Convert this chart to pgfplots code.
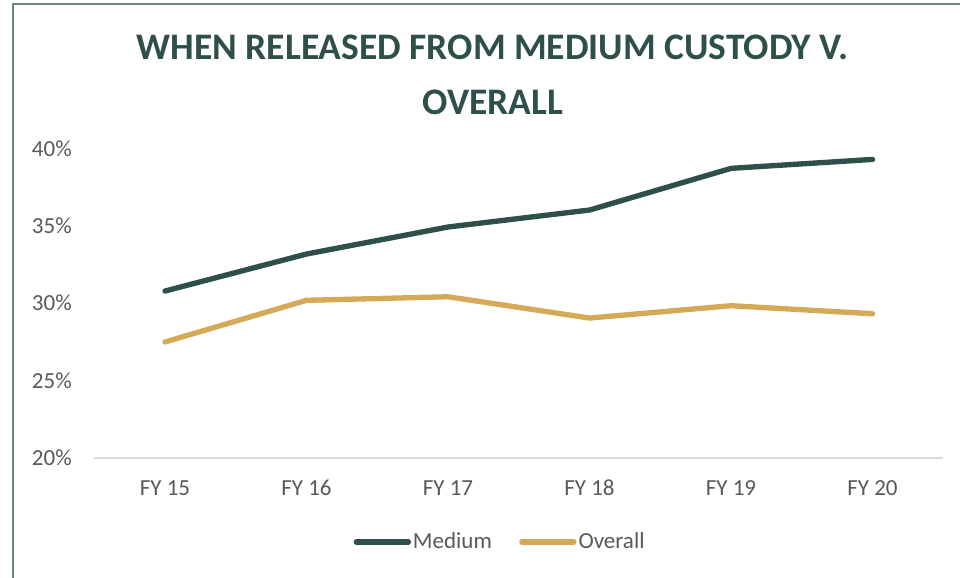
\documentclass[border=0pt]{standalone}
\usepackage{pgfplots}
\pgfplotsset{compat=1.18}
\usepackage{fontspec}
\setmainfont{Carlito}
\definecolor{dg}{HTML}{2E4F4A}
\definecolor{gold}{HTML}{D4A958}
\definecolor{txt}{HTML}{595959}
\definecolor{framec}{HTML}{6E8886}
\definecolor{axc}{HTML}{D9D9D9}
\begin{document}
\begin{tikzpicture}[x=0.75pt,y=0.75pt]
\useasboundingbox (0,0) rectangle (960,578);
\clip (0,0) rectangle (960,578);
\draw[framec, line width=0.9pt] (13,-5) -- (13,574) -- (970,574);
\node[font=\fontsize{28.1}{41.8}\selectfont\bfseries, text=dg, anchor=base, inner sep=0pt] at (492.5,518.7) {WHEN RELEASED FROM MEDIUM CUSTODY V.};
\node[font=\fontsize{28.1}{41.8}\selectfont\bfseries, text=dg, anchor=base, inner sep=0pt] at (493,463) {OVERALL};
\begin{axis}[
  at={(70.7pt,90.2pt)}, anchor=south west,
  width=636.75pt, height=231.5pt, scale only axis,
  xmin=-0.5, xmax=5.5, ymin=20, ymax=40,
  ytick={20,25,30,35,40},
  yticklabels={20\%,25\%,30\%,35\%,40\%},
  xtick={0,1,2,3,4,5},
  xticklabels={FY 15,FY 16,FY 17,FY 18,FY 19,FY 20},
  axis x line=bottom, axis y line=left,
  x axis line style={draw=axc, line width=1.5pt, -},
  y axis line style={draw=none, -},
  major tick length=0pt, tick style={draw=none},
  yticklabel style={anchor=base east, inner sep=0pt, xshift=-16.7pt, yshift=-5.6pt, text=txt, font=\fontsize{17.25}{20}\selectfont},
  xticklabel style={anchor=base, inner sep=0pt, yshift=-28.5pt, text=txt, font=\fontsize{17.25}{20}\selectfont},
  clip=false,
  legend style={draw=none, fill=none, at={(0.478,-0.273)}, anchor=center,
    legend columns=2, font=\fontsize{17.25}{20}\selectfont, text=txt,
    nodes={inner sep=1.5pt},
    /tikz/every even column/.append style={column sep=19pt}},
  legend image code/.code={\draw[#1, line cap=round] (0pt,0pt) -- (39pt,0pt);},
]
\addplot[dg, line width=4pt, line cap=round, line join=round] coordinates {
 (0,30.8) (1,33.2) (2,34.95) (3,36.05) (4,38.75) (5,39.33)};
\addlegendentry{Medium}
\addplot[gold, line width=4pt, line cap=round, line join=round] coordinates {
 (0,27.5) (1,30.2) (2,30.43) (3,29.05) (4,29.85) (5,29.33)};
\addlegendentry{Overall}
\end{axis}
\end{tikzpicture}
\end{document}
